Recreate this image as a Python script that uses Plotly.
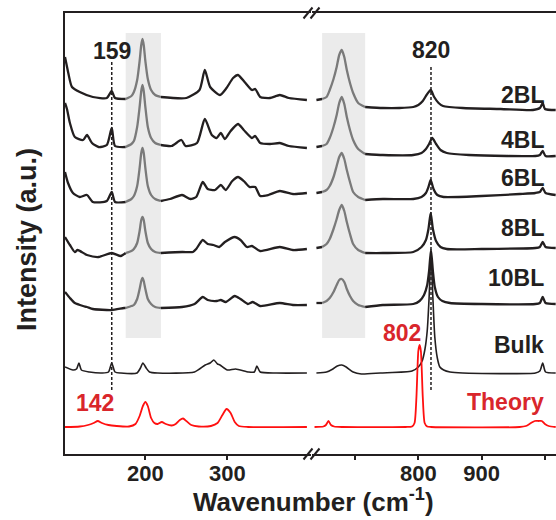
import plotly.graph_objects as go

# ---- spectra: (wavenumber cm^-1, intensity a.u. above the trace's own baseline) ----
# low-frequency window (about 100-400 cm^-1)
BL2_LOW = [(102, 42), (104, 34), (106, 26), (110.5, 12), (120, 7), (136, 2), (153, 1), (159, 8), (163, 1),
           (176, 0), (183, 3), (186, 7), (190, 19), (193, 38), (195, 54), (196.5, 60), (198, 54), (200, 38),
           (203, 20), (207, 9), (212, 4), (219, 2), (250, 1), (266, 9), (272.5, 29), (279, 12), (291, 4),
           (299, 11), (307, 21), (313, 24), (321, 17), (330, 9), (334, 10), (340, 2), (352, 1), (364, 4),
           (375, 1), (397, -1)]
BL4_LOW = [(102, 44), (104.4, 38), (108, 24), (114, 10), (124, 7), (128.8, 12), (134.9, 4), (143, 0),
           (153, 2), (159, 19), (163, 1), (176, 0), (183, 3), (186, 6), (190, 20), (193, 40), (195, 56),
           (196.5, 62), (198, 56), (200, 40), (203, 20), (207, 9), (212, 4), (219, 2), (232, 1), (244, 7),
           (249, 1), (263, 4), (272.5, 28), (281, 12), (287, 9), (292, 14), (297, 8), (304, 16), (313, 23),
           (320, 17), (330, 9), (334, 11), (340, 4), (352, 3), (364, 4), (375, 1), (397, -1)]
BL6_LOW = [(102, 29), (105.7, 18), (111.7, 8), (120, 4), (128.8, 6), (136, -1), (153, 0), (159, 9),
           (163, -1), (176, -1), (183, 2), (186, 5), (190, 15), (193, 33), (195, 48), (196.5, 53), (198, 48),
           (200, 33), (203, 15), (207, 6), (212, 2), (219, 0), (230, 2), (244.7, 6), (255, 2), (262, 4),
           (270, 19), (276, 12), (285, 11), (292, 16), (298, 11), (306, 20), (313, 24), (320, 20), (327, 14),
           (334, 14), (340, 5), (350, 6), (364, 10), (380, 7), (397, 8)]
BL8_LOW = [(102, 16), (108, 8), (114, 1), (117.4, 3), (128.8, -2), (143, -4), (159, 0), (170, -3),
           (176, 0), (183, 2), (186, 4), (190, 10), (193, 22), (195, 33), (196.5, 36), (198, 33), (200, 22),
           (203, 10), (207, 4), (212, 1), (219, 0), (245, 1), (258, 1), (262, 4), (270, 13), (276, 9),
           (283, 8), (290, 6), (297, 11), (309, 16), (316, 13), (324, 6), (330, 7), (340, 2), (364, 6),
           (380, 3), (397, 4)]
BL10_LOW = [(102, 15), (108, 9), (114, 4), (124, 1), (128.8, 0), (136, -2), (159, -3), (174, -1),
            (176, -1), (183, 1), (186, 2), (190, 8), (193, 18), (195, 26), (196.5, 29), (198, 26), (200, 18),
            (203, 8), (207, 3), (212, 0), (219, -1), (244.7, 0), (260, 3), (270, 10), (276, 7), (287, 6),
            (292, 7), (298, 5), (309, 11), (316, 8), (325, 3), (331, 5), (340, 1), (364, 4), (380, 2),
            (397, 2)]
BULK_LOW = [(102, 6), (111.7, 3), (116, 4), (119, 10), (122, 3), (131.8, 1), (147.6, 0), (155, 1),
            (159, 10), (163, 1), (170, 0), (189.8, 0), (194, 5), (197, 10), (201, 5), (205, 1), (215, 0),
            (260, 1), (273, 8), (279, 10), (283.5, 13), (288, 9), (291, 8), (300, 3), (310, 4), (326, 1),
            (333, 1), (336, 7), (340, 1), (360, 0), (397, 0)]
THEORY_LOW = [(102, 0), (120, 0.5), (130, 2), (137, 4), (142, 6), (147, 4), (155, 2), (165, 1), (180, 0.5),
              (188, 3), (193, 11), (197, 21), (200, 25), (203, 21), (207, 9), (211, 4), (215, 3), (220, 5),
              (225, 3), (232, 1.5), (237, 3), (242, 7), (246, 8.5), (250, 6), (256, 2), (265, 0.5), (280, 1),
              (288, 4), (294, 12), (299, 18), (304, 14), (309, 5), (314, 1), (325, 0), (397, 0)]

# high-frequency window (about 630-1020 cm^-1)
BL2_HIGH = [(639, -1), (648, 0), (655, 2), (660, 9), (666, 20), (671, 32), (675, 44), (679, 49), (683, 42),
            (687, 29), (692, 16), (697, 6), (705, -4), (716, -8), (744, -9), (770, -9), (792, -8), (800, -6),
            (807, -2), (813, 4), (819.5, 9), (825, 2), (832, -4), (839, -7), (870, -9), (930, -10),
            (981, -11), (992, -9), (996.5, -4), (1000, -10), (1017, -11)]
BL4_HIGH = [(639, 0), (648, 1), (655, 3), (660, 9), (666, 20), (671, 32), (675, 44), (679, 50), (683, 43),
            (687, 30), (692, 17), (697, 7), (705, -2), (716, -7), (744, -8), (792, -8), (805, -6), (812, -2),
            (817, 3), (822, 9), (828, 3), (835, -3), (845, -6), (880, -8), (940, -9), (985, -9), (992, -8),
            (996.5, -4), (1001, -9), (1017, -9)]
BL6_HIGH = [(639, 8), (648, 9), (655, 11), (660, 15), (666, 24), (671, 35), (675, 44), (679, 48), (683, 42),
            (687, 31), (692, 19), (697, 9), (705, 4), (716, 1), (744, 2), (792, 2), (805, 4), (812, 8),
            (816, 14), (819.5, 21), (824, 12), (830, 6), (840, 4), (900, 5), (960, 7), (985, 8), (992, 9),
            (996.5, 13), (1001, 8), (1017, 6)]
BL8_HIGH = [(639, 5), (648, 6), (655, 9), (660, 14), (666, 24), (671, 34), (675, 43), (679, 48), (683, 42),
            (687, 31), (692, 19), (697, 9), (705, 3), (716, 0), (744, 0), (792, 1), (805, 6), (812, 13),
            (816, 24), (819.5, 40), (823, 24), (828, 12), (835, 6), (845, 4), (900, 4), (985, 5), (992, 6),
            (996.5, 11), (1001, 6), (1017, 5)]
BL10_HIGH = [(639, 4), (648, 4), (655, 6), (660, 9), (666, 15), (671, 22), (675, 27), (679, 28), (683, 25),
             (687, 18), (692, 11), (697, 6), (705, 2), (716, 0), (744, 2), (792, 3), (802, 6), (809, 12),
             (814, 22), (817, 36), (820, 57), (823, 36), (826, 20), (831, 10), (838, 6), (850, 4), (900, 3),
             (985, 3), (992, 4), (996.5, 10), (1001, 4), (1017, 3)]
BULK_HIGH = [(639, 0), (655, 1), (665, 4), (672, 7), (679, 8), (686, 6), (697, 1), (710, -1), (740, 0),
             (790, 2), (800, 6), (806, 12), (810.5, 24), (814, 42), (817, 75), (820, 120), (823, 75),
             (826, 36), (830, 15), (834, 6), (840, 3), (850, 1), (870, 0), (985, 0), (992, 2), (996.5, 10),
             (1001, 1), (1017, 0)]
THEORY_HIGH = [(636, 0), (650, 0.5), (654, 2), (658, 6), (662, 2), (667, 0.5), (680, 0), (780, 0),
               (790, 0.5), (794, 4), (797, 30), (800, 76), (802, 82), (804, 76), (807, 30), (810, 4),
               (814, 0.5), (820, 0), (960, 0), (970, 1), (978, 4), (984, 6), (990, 6), (995, 6), (1000, 3),
               (1006, 1), (1017, 0)]

LABELS = ["2BL", "4BL", "6BL", "8BL", "10BL", "Bulk", "Theory"]
STACK_OFFSET = [355, 307, 253, 201, 147, 81, 27]
LOW_SPECTRA = [BL2_LOW, BL4_LOW, BL6_LOW, BL8_LOW, BL10_LOW, BULK_LOW, THEORY_LOW]
HIGH_SPECTRA = [BL2_HIGH, BL4_HIGH, BL6_HIGH, BL8_HIGH, BL10_HIGH, BULK_HIGH, THEORY_HIGH]

SHADED_LOW = (176, 219)      # substrate band, low window
SHADED_HIGH = (648, 716)     # substrate band, high window
MEASURED_MODES = [159, 820]
THEORY_MODES = [142, 802]

TICKS_LOW = [200, 300]
TICKS_HIGH = [800, 900]
TICKS_HIGH_MINOR = [700, 1000]   # unlabelled ticks

# ---- styling ----
FONT = "Liberation Sans, Arial, sans-serif"
INK = "#231f20"
RED_TEXT = "#d9262b"
RED_LINE = "#ff1010"
BAND_GRAY = "#ebebeb"
PEAK_GRAY = "#7a7a7a"

W, H = 556, 520
ML, MR, MT, MB = 65, 0, 13, 66
PW, PH = W - ML - MR, H - MT - MB
BREAK_PX = 311.5  # axis break, px from the left edge of the figure


def px2paper_x(px):
    return (px - ML) / PW


def px2paper_y(py):
    return (H - MB - py) / PH


fig = go.Figure()


def add_line(xs, ys, xaxis, color, width, shape="spline"):
    fig.add_trace(go.Scatter(
        x=xs, y=ys, xaxis=xaxis, yaxis="y", mode="lines",
        line=dict(color=color, width=width, shape=shape, smoothing=0.6),
        hoverinfo="skip", showlegend=False))


def split_band(points, band):
    lo, hi = band
    before = [p for p in points if p[0] <= lo]
    inside = [p for p in points if lo <= p[0] <= hi]
    after = [p for p in points if p[0] >= hi]
    return before, inside, after


for i, name in enumerate(LABELS):
    off = STACK_OFFSET[i]
    is_theory = name == "Theory"
    is_bulk = name == "Bulk"
    base_color = RED_LINE if is_theory else INK
    width = 1.8 if is_theory else (1.6 if is_bulk else 2.3)
    for pts, band, ax in ((LOW_SPECTRA[i], SHADED_LOW, "x"), (HIGH_SPECTRA[i], SHADED_HIGH, "x2")):
        if is_theory or is_bulk:
            add_line([p[0] for p in pts], [p[1] + off for p in pts], ax, base_color, width)
            continue
        before, inside, after = split_band(pts, band)
        for seg, col in ((before, base_color), (inside, PEAK_GRAY), (after, base_color)):
            if len(seg) > 1:
                add_line([p[0] for p in seg], [p[1] + off for p in seg], ax, col, width)

# dotted guides at the measured modes
fig.add_trace(go.Scatter(x=[MEASURED_MODES[0]] * 2, y=[64, 392], xaxis="x", yaxis="y", mode="lines",
                         line=dict(color=INK, width=1.5, dash="3px,2px"), hoverinfo="skip", showlegend=False))
fig.add_trace(go.Scatter(x=[MEASURED_MODES[1]] * 2, y=[64, 389], xaxis="x2", yaxis="y", mode="lines",
                         line=dict(color=INK, width=1.5, dash="3px,2px"), hoverinfo="skip", showlegend=False))

shapes = []
# shaded substrate bands
for band, xr in ((SHADED_LOW, "x"), (SHADED_HIGH, "x2")):
    shapes.append(dict(type="rect", xref=xr, yref="y", x0=band[0], x1=band[1], y0=116, y1=421,
                       fillcolor=BAND_GRAY, line=dict(width=0), layer="below"))
# axis-break marks on top and bottom frame lines
for py in (MT, H - MB):
    for cx in (BREAK_PX - 3.5, BREAK_PX + 3.5):
        shapes.append(dict(type="line", xref="paper", yref="paper",
                           x0=px2paper_x(cx - 4.5), y0=px2paper_y(py + 5.5),
                           x1=px2paper_x(cx + 4.5), y1=px2paper_y(py - 5.5),
                           line=dict(color=INK, width=2)))

annotations = []
bold = dict(family=FONT, size=23, color=INK, weight="bold")
annotations.append(dict(x=MEASURED_MODES[0], y=403, xref="x", yref="y", text=str(MEASURED_MODES[0]),
                        showarrow=False, font=bold, xanchor="center", yanchor="middle"))
annotations.append(dict(x=MEASURED_MODES[1], y=404, xref="x2", yref="y", text=str(MEASURED_MODES[1]),
                        showarrow=False, font=bold, xanchor="center", yanchor="middle"))
red_bold = dict(family=FONT, size=23, color=RED_TEXT, weight="bold")
annotations.append(dict(x=139, y=51, xref="x", yref="y", text=str(THEORY_MODES[0]),
                        showarrow=False, font=red_bold, xanchor="center", yanchor="middle"))
annotations.append(dict(x=774, y=121, xref="x2", yref="y", text=str(THEORY_MODES[1]),
                        showarrow=False, font=red_bold, xanchor="center", yanchor="middle"))

LABEL_Y = [359, 314, 276, 226, 176, 109, 52]
for name, ly in zip(LABELS, LABEL_Y):
    annotations.append(dict(x=1001, y=ly, xref="x2", yref="y", text=name, showarrow=False,
                            font=red_bold if name == "Theory" else bold,
                            xanchor="right", yanchor="middle"))

annotations.append(dict(x=px2paper_x(313), y=px2paper_y(519), xref="paper", yref="paper",
                        text="Wavenumber (cm<sup>-1</sup>)", showarrow=False,
                        font=dict(family=FONT, size=26, color=INK, weight="bold"),
                        xanchor="center", yanchor="bottom"))
annotations.append(dict(x=px2paper_x(27), y=px2paper_y(240), xref="paper", yref="paper",
                        text="Intensity (a.u.)", showarrow=False, textangle=-90,
                        font=dict(family=FONT, size=27, color=INK, weight="bold"),
                        xanchor="center", yanchor="middle"))

tickfont = dict(family=FONT, size=22, color=INK, weight="bold")
fig.update_layout(
    width=W, height=H,
    margin=dict(l=ML, r=MR, t=MT, b=MB, pad=0),
    paper_bgcolor="white", plot_bgcolor="white",
    showlegend=False,
    xaxis=dict(domain=[0, px2paper_x(BREAK_PX - 0.5)], range=[102, 402], anchor="y",
               showline=True, linecolor=INK, linewidth=2, mirror=True,
               showgrid=False, zeroline=False,
               tickmode="array", tickvals=TICKS_LOW, ticktext=[str(t) for t in TICKS_LOW],
               ticks="outside", ticklen=4, tickwidth=2, tickcolor=INK, tickfont=tickfont,
               ticklabelstandoff=-5),
    xaxis2=dict(domain=[px2paper_x(BREAK_PX + 0.5), 1], range=[632, 1017.5], anchor="y",
                showline=True, linecolor=INK, linewidth=2, mirror=True,
                showgrid=False, zeroline=False,
                tickmode="array", tickvals=TICKS_HIGH, ticktext=[str(t) for t in TICKS_HIGH],
                ticks="outside", ticklen=4, tickwidth=2, tickcolor=INK, tickfont=tickfont,
                ticklabelstandoff=-5,
                minor=dict(tickmode="array", tickvals=TICKS_HIGH_MINOR, ticks="outside",
                           ticklen=4, tickwidth=2, tickcolor=INK, showgrid=False)),
    yaxis=dict(domain=[0, 1], range=[0, PH], showline=True, linecolor=INK, linewidth=2,
               showgrid=False, zeroline=False, showticklabels=False, ticks=""),
    shapes=shapes,
    annotations=annotations,
)

fig.write_html("out.html")
